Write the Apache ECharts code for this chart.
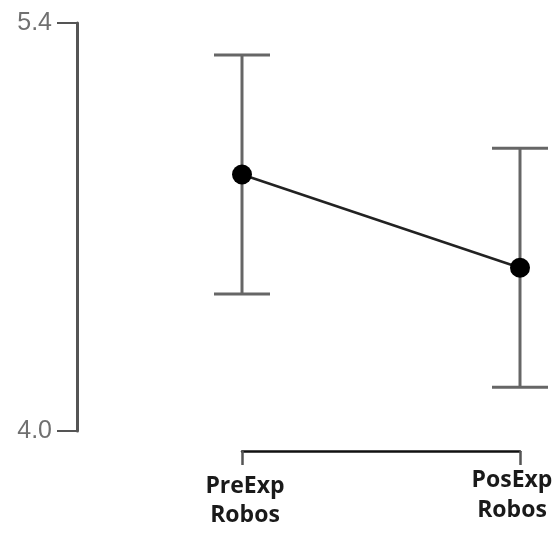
<!DOCTYPE html>
<html>
<head>
<meta charset="utf-8">
<script src="https://cdn.jsdelivr.net/npm/echarts@6/dist/echarts.min.js"></script>
<style>
  html, body { margin: 0; padding: 0; background: #fff; }
  #chart { width: 559px; height: 538px; }
</style>
</head>
<body>
<div id="chart"></div>
<script>
// Conditions on the x axis
const categories = ['PreExp\nRobos', 'PosExp\nRobos'];
// Group means and the ends of their error bars
const means = [4.88, 4.56];
const lower = [4.47, 4.15];
const upper = [5.29, 4.97];
// Y axis range and the two labelled ticks
const yTicks = [4.0, 5.4];

const chart = echarts.init(document.getElementById('chart'));

const errorData = categories.map((c, i) => [i, lower[i], upper[i]]);

const labelFont = { fontFamily: 'Open Sans', fontWeight: 'bold', fontSize: 23, color: '#1a1a1a' };

chart.setOption({
  animation: false,
  grid: { left: 242, right: 39, top: 23, bottom: 107, containLabel: false, outerBoundsMode: 'none' },
  xAxis: {
    type: 'category',
    data: categories,
    boundaryGap: false,
    offset: 20,
    axisLine: { show: true, lineStyle: { color: '#111', width: 2.5 } },
    axisTick: { show: true, length: 14, lineStyle: { color: '#555', width: 2.5 } },
    axisLabel: {
      margin: 20,
      interval: 0,
      hideOverlap: false,
      formatter: (v, i) => {
        const [a, b] = v.split('\n');
        return i === 0
          ? '{l|' + a + '}\n{l|' + b + '}'
          : '{r1|' + a + '}\n{r2|' + b + '}';
      },
      rich: {
        l: Object.assign({ lineHeight: 29, padding: [2, 0, 0, 6] }, labelFont),
        r1: Object.assign({ lineHeight: 18, padding: [0, 16, 0, 0] }, labelFont),
        r2: Object.assign({ lineHeight: 42, padding: [0, 16, 0, 0] }, labelFont)
      }
    },
    splitLine: { show: false }
  },
  yAxis: {
    type: 'value',
    min: yTicks[0],
    max: yTicks[1],
    offset: 165,
    axisLine: { show: true, lineStyle: { color: '#555', width: 3 } },
    axisTick: { show: true, length: 20, customValues: yTicks, lineStyle: { color: '#555', width: 2 } },
    axisLabel: {
      customValues: yTicks,
      margin: 25,
      formatter: v => v.toFixed(1),
      fontFamily: 'Liberation Sans',
      fontSize: 25,
      color: '#707070'
    },
    splitLine: { show: false }
  },
  series: [
    {
      type: 'custom',
      data: errorData,
      z: 1,
      renderItem: (params, api) => {
        const x = api.value(0);
        const lo = api.coord([x, api.value(1)]);
        const hi = api.coord([x, api.value(2)]);
        const half = 28;
        const style = { stroke: '#666', lineWidth: 3 };
        return {
          type: 'group',
          children: [
            { type: 'line', shape: { x1: hi[0], y1: hi[1], x2: lo[0], y2: lo[1] }, style },
            { type: 'line', shape: { x1: hi[0] - half, y1: hi[1], x2: hi[0] + half, y2: hi[1] }, style },
            { type: 'line', shape: { x1: lo[0] - half, y1: lo[1], x2: lo[0] + half, y2: lo[1] }, style }
          ]
        };
      }
    },
    {
      type: 'line',
      data: means,
      z: 2,
      symbol: 'circle',
      symbolSize: 20,
      itemStyle: { color: '#000' },
      lineStyle: { color: '#222', width: 2.5 }
    }
  ]
});
</script>
</body>
</html>
